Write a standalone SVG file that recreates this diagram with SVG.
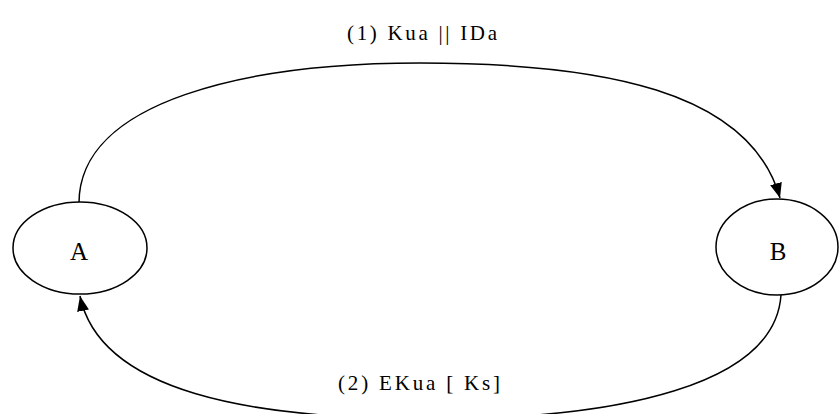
<svg xmlns="http://www.w3.org/2000/svg" width="839" height="414" viewBox="0 0 839 414">
  <defs>
    <style>
      .node { fill: #ffffff; stroke: #000000; stroke-width: 1.5; }
      .edge { fill: none; stroke: #000000; stroke-width: 1.5; }
      .lbl { font-family: "Liberation Serif", "Times New Roman", serif; fill: #000000; }
      .nodelbl { font-size: 25px; text-anchor: middle; }
      .edgelbl { font-size: 21px; }
    </style>
    <marker id="arrow" markerWidth="16" markerHeight="14" refX="15" refY="6" orient="auto" markerUnits="userSpaceOnUse">
      <path d="M0,0 L15,6 L0,12 Z" fill="#000000"/>
    </marker>
  </defs>
  <rect width="839" height="414" fill="#ffffff"/>

  <g id="connectors">
    <!-- A to B over the top -->
    <g id="edge-a-b">
      <path class="edge" d="M79,203 C79,100 250,63 420,63 C600,63 750,90 780,198" marker-end="url(#arrow)"/>
      <text class="lbl edgelbl" x="347" y="40" textLength="150" lengthAdjust="spacing">(1) Kua || IDa</text>
    </g>
    <!-- B back to A along the bottom -->
    <g id="edge-b-a">
      <path class="edge" d="M781,295 C775,385 620,419 430,419 C250,419 100,392 80,296" marker-end="url(#arrow)"/>
      <text class="lbl edgelbl" x="338" y="390" textLength="162" lengthAdjust="spacing">(2) EKua [ Ks]</text>
    </g>
  </g>

  <g id="node-a">
    <ellipse class="node" cx="80" cy="248" rx="67" ry="46"/>
    <text class="lbl nodelbl" x="79" y="260">A</text>
  </g>

  <g id="node-b">
    <ellipse class="node" cx="777" cy="247" rx="61" ry="48"/>
    <text class="lbl nodelbl" x="778" y="260">B</text>
  </g>
</svg>
